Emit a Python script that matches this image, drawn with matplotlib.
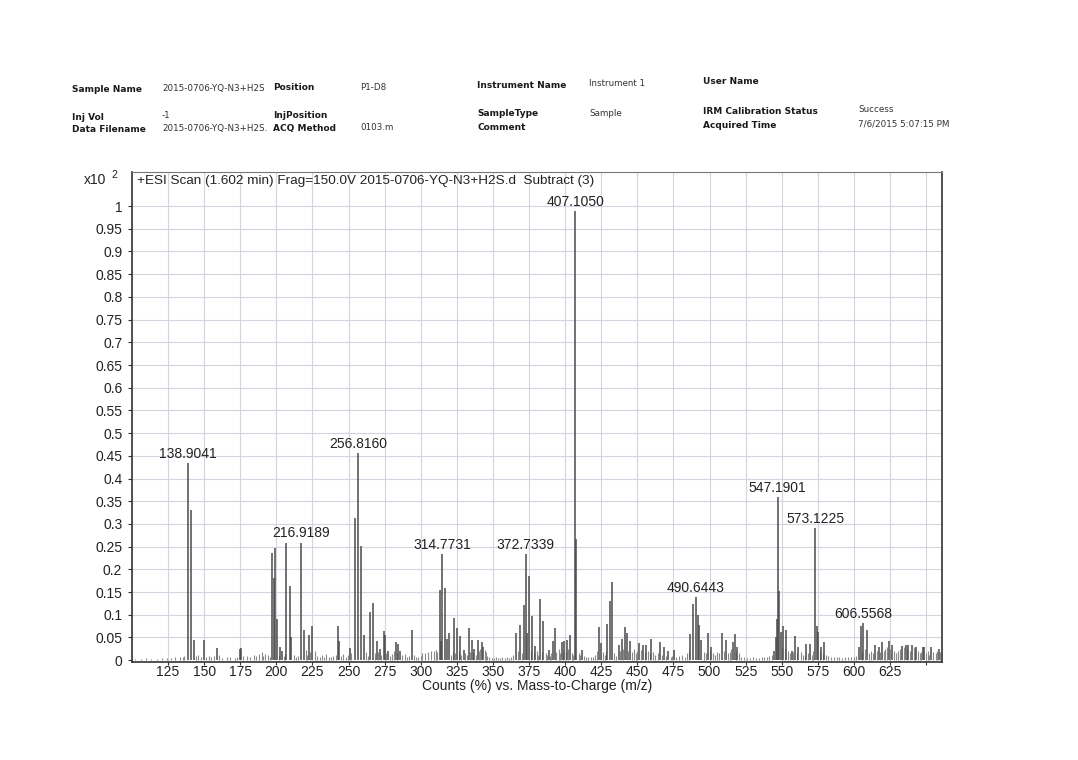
import matplotlib
matplotlib.use("Agg")
import matplotlib.pyplot as plt

# ---------------- data ----------------
peak_mz = [138.9041, 140.9, 142.8, 149.8, 158.6, 174.9, 175.6,
           197.1, 198.5, 199.3, 200.5, 202.4, 204.0, 207.0, 209.2, 210.3,
           216.9189, 218.9, 222.4, 224.9, 242.4, 243.7, 250.8,
           254.3, 256.8160, 258.9, 260.6, 265.0, 267.1, 269.4, 271.7, 274.6, 275.5,
           277.1, 282.5, 284.1, 285.7, 293.6,
           313.0, 313.7, 314.7731, 316.9, 318.0, 319.6, 323.1, 325.3, 327.2, 329.6,
           333.1, 335.2, 337.2, 339.6, 342.1, 343.3,
           365.8, 368.8, 371.3, 372.7339, 373.9, 374.8, 377.3, 379.4, 382.8, 385.0,
           388.6, 391.3, 392.9, 397.7, 399.4, 401.3, 403.3,
           407.1050, 407.8, 411.8, 423.1, 424.6, 429.2, 430.9, 432.5, 437.0, 439.2,
           441.3, 442.7, 444.8, 451.0, 453.8, 456.1, 459.7, 465.5, 468.8, 471.5, 475.4,
           486.7, 488.4, 490.6443, 492.0, 493.0, 494.2, 498.7, 501.0, 508.8, 511.3,
           516.0, 517.5, 519.1,
           544.8, 545.8, 546.4, 547.1901, 548.2, 549.3, 551.2, 553.2, 556.9, 559.2,
           561.5, 567.1, 569.6, 573.1225, 574.1, 575.3, 577.3, 579.4,
           603.3, 604.8, 606.5568, 608.9, 614.6, 617.2, 619.2, 624.3, 626.1,
           633.5, 635.8, 637.6, 640.0, 643.0, 647.5, 648.8, 653.6, 658.8]
peak_int = [0.435, 0.33, 0.044, 0.045, 0.027, 0.024, 0.026,
            0.237, 0.18, 0.247, 0.09, 0.029, 0.02, 0.257, 0.163, 0.05,
            0.259, 0.066, 0.055, 0.076, 0.075, 0.042, 0.027,
            0.313, 0.457, 0.252, 0.055, 0.106, 0.126, 0.042, 0.025, 0.064, 0.055,
            0.02, 0.04, 0.036, 0.021, 0.067,
            0.154, 0.042, 0.234, 0.16, 0.046, 0.06, 0.093, 0.071, 0.054, 0.022,
            0.071, 0.045, 0.024, 0.045, 0.039, 0.028,
            0.06, 0.078, 0.122, 0.233, 0.06, 0.186, 0.097, 0.032, 0.134, 0.087,
            0.023, 0.042, 0.07, 0.04, 0.042, 0.045, 0.055,
            0.99, 0.267, 0.023, 0.073, 0.037, 0.079, 0.13, 0.173, 0.034, 0.046,
            0.073, 0.06, 0.043, 0.038, 0.034, 0.034, 0.046, 0.04, 0.028, 0.02, 0.022,
            0.058, 0.124, 0.14, 0.10, 0.078, 0.044, 0.06, 0.03, 0.059, 0.044,
            0.04, 0.057, 0.028,
            0.02, 0.05, 0.09, 0.36, 0.153, 0.063, 0.076, 0.066, 0.02, 0.053,
            0.03, 0.035, 0.036, 0.291, 0.075, 0.062, 0.028, 0.04,
            0.03, 0.075, 0.081, 0.066, 0.034, 0.03, 0.04, 0.042, 0.034,
            0.032, 0.034, 0.033, 0.034, 0.03, 0.028, 0.03, 0.028, 0.024]

noise_mz = [102, 106, 110, 113, 117, 121, 124, 127, 130, 133, 135, 136, 144.4, 146, 148,
            151, 153.2, 155, 157, 160, 162, 165.9, 168, 171, 173, 177, 179.8, 182, 184.4,
            186, 187.8, 190.1, 191, 192.2, 194, 195.5, 201.5, 205.2, 206, 212, 213.5, 215,
            220.6, 221.3, 223, 226.5, 228.2, 230, 231.7, 233, 234.7, 236.5, 238, 239.3, 241,
            245, 246.4, 248, 249.5, 252, 262, 263.5, 268.3, 270.5, 272.8, 276, 278.5, 280,
            281.3, 283.2, 287, 289.1, 290.5, 292, 295, 296.5, 298, 300, 300.7, 302.6, 304.7,
            306.8, 308.9, 310.5, 311.5, 320.8, 322, 324, 326.3, 328, 330.5, 331.8, 334, 336,
            338.3, 340.5, 341, 344.3, 345, 346, 347.5, 349, 350.5, 352, 353.5, 355, 356.5,
            358, 359.5, 361, 362.5, 364, 367, 370, 376, 378.3, 380.5, 381.5, 384, 386.5,
            387.5, 389.7, 390.5, 394, 395.5, 396.5, 398.5, 400.5, 402.3, 404.5, 405.5,
            409.8, 410.5, 413, 414.5, 416, 418, 419.5, 421, 422, 426, 427.5, 428.3, 434,
            435.5, 438, 440, 443.5, 446, 447.5, 448.8, 450, 452.2, 455, 457.3, 458.5, 461,
            462.5, 464, 467, 470, 473, 474, 477, 479, 481, 483, 484.5, 485.5, 496, 497.3,
            500, 502.3, 503.5, 505, 506.5, 510, 512.5, 514, 515, 518.2, 520.5, 522, 524,
            526, 528, 530, 532, 534, 536, 538, 540, 541.5, 543, 550.3, 552, 554.5, 555.5,
            558, 560.3, 563, 564.5, 566, 568.2, 571, 572, 576.4, 578.3, 580.5, 582, 584,
            586, 588, 590, 592, 594, 596, 598, 600, 601.5, 605.7, 607.6, 610.2, 611.5, 613,
            616, 618, 620.5, 621.8, 623, 625.3, 627.5, 629, 630.5, 632, 634.7, 636.8, 639,
            641.5, 642.2, 644.3, 645.5, 646.3, 650, 651.2, 652.3, 655, 656.5, 657.6, 659.5]
noise_int = [0.003, 0.002, 0.004, 0.003, 0.002, 0.004, 0.005, 0.004, 0.007, 0.006, 0.008,
             0.009, 0.009, 0.012, 0.006, 0.008, 0.009, 0.006, 0.01, 0.012, 0.005, 0.007,
             0.006, 0.005, 0.008, 0.01, 0.009, 0.008, 0.011, 0.009, 0.013, 0.018, 0.01,
             0.014, 0.012, 0.008, 0.012, 0.01, 0.014, 0.012, 0.008, 0.01, 0.023, 0.012,
             0.018, 0.02, 0.009, 0.006, 0.011, 0.007, 0.014, 0.008, 0.006, 0.009, 0.012,
             0.01, 0.013, 0.008, 0.012, 0.015, 0.018, 0.01, 0.015, 0.018, 0.012, 0.015,
             0.01, 0.013, 0.02, 0.015, 0.012, 0.013, 0.008, 0.01, 0.012, 0.007, 0.006,
             0.01, 0.015, 0.016, 0.018, 0.02, 0.02, 0.022, 0.018, 0.012, 0.018, 0.015,
             0.02, 0.012, 0.015, 0.012, 0.018, 0.015, 0.012, 0.02, 0.025, 0.022, 0.018,
             0.01, 0.006, 0.004, 0.005, 0.006, 0.004, 0.005, 0.007, 0.004, 0.006, 0.005,
             0.008, 0.012, 0.02, 0.015, 0.02, 0.015, 0.02, 0.012, 0.018, 0.015, 0.012,
             0.01, 0.015, 0.018, 0.025, 0.015, 0.02, 0.018, 0.025, 0.015, 0.012, 0.015,
             0.012, 0.01, 0.008, 0.006, 0.008, 0.006, 0.012, 0.02, 0.018, 0.012, 0.02,
             0.015, 0.01, 0.02, 0.025, 0.02, 0.018, 0.025, 0.015, 0.02, 0.022, 0.018,
             0.02, 0.015, 0.018, 0.012, 0.015, 0.012, 0.01, 0.008, 0.01, 0.008, 0.01,
             0.012, 0.008, 0.015, 0.02, 0.018, 0.015, 0.02, 0.015, 0.012, 0.018, 0.015,
             0.02, 0.015, 0.018, 0.025, 0.02, 0.015, 0.008, 0.006, 0.005, 0.004, 0.006,
             0.005, 0.004, 0.006, 0.008, 0.007, 0.01, 0.012, 0.03, 0.025, 0.02, 0.015,
             0.018, 0.015, 0.018, 0.012, 0.01, 0.015, 0.012, 0.02, 0.02, 0.015, 0.012,
             0.01, 0.008, 0.006, 0.008, 0.006, 0.005, 0.007, 0.008, 0.006, 0.008, 0.01,
             0.02, 0.025, 0.015, 0.02, 0.015, 0.02, 0.018, 0.02, 0.025, 0.03, 0.025,
             0.02, 0.015, 0.02, 0.025, 0.028, 0.025, 0.02, 0.03, 0.025, 0.02, 0.015,
             0.018, 0.015, 0.02, 0.012, 0.018, 0.015, 0.02, 0.018]

label_mz = [138.9041, 216.9189, 256.8160, 314.7731, 372.7339, 407.1050,
            490.6443, 547.1901, 573.1225, 606.5568]
label_int = [0.435, 0.259, 0.457, 0.234, 0.233, 0.99, 0.14, 0.36, 0.291, 0.081]

x_ticks = [125, 150, 175, 200, 225, 250, 275, 300, 325, 350, 375, 400, 425, 450,
           475, 500, 525, 550, 575, 600, 625]
y_ticks = [0, 0.05, 0.1, 0.15, 0.2, 0.25, 0.3, 0.35, 0.4, 0.45, 0.5, 0.55, 0.6,
           0.65, 0.7, 0.75, 0.8, 0.85, 0.9, 0.95, 1]
y_ticklabels = ["0", "0.05", "0.1", "0.15", "0.2", "0.25", "0.3", "0.35", "0.4",
                "0.45", "0.5", "0.55", "0.6", "0.65", "0.7", "0.75", "0.8", "0.85",
                "0.9", "0.95", "1"]

header_left = [("Sample Name", "2015-0706-YQ-N3+H2S"), ("Inj Vol", "-1"),
               ("Data Filename", "2015-0706-YQ-N3+H2S.")]
header_mid = [("Position", "P1-D8"), ("InjPosition", ""), ("ACQ Method", "0103.m")]
header_mid2 = [("Instrument Name", "Instrument 1"), ("SampleType", "Sample"),
               ("Comment", "")]
header_right = [("User Name", ""), ("IRM Calibration Status", "Success"),
                ("Acquired Time", "7/6/2015 5:07:15 PM")]

title_text = "+ESI Scan (1.602 min) Frag=150.0V 2015-0706-YQ-N3+H2S.d  Subtract (3)"
xlabel_text = "Counts (%) vs. Mass-to-Charge (m/z)"

# ---------------- figure ----------------
W, H = 1078, 760
fig = plt.figure(figsize=(W / 100, H / 100), dpi=100)
fig.patch.set_facecolor("white")

ax_l, ax_r, ax_t, ax_b = 132, 942, 172, 662
ax = fig.add_axes([ax_l / W, 1 - ax_b / H, (ax_r - ax_l) / W, (ax_b - ax_t) / H])

font_main = "Liberation Sans"

ax.vlines(noise_mz, 0, noise_int, colors="#8a8a8a", linewidth=0.8, zorder=2)
ax.vlines(peak_mz, 0, peak_int, colors="#4a4a4a", linewidth=1.1, zorder=3)

for m, v in zip(label_mz, label_int):
    ax.annotate(f"{m:.4f}", xy=(m, v), xytext=(0, 1.5), textcoords="offset points",
                ha="center", va="bottom", fontsize=10, family=font_main,
                color="#222222", zorder=4)

ax.set_xlim(100, 661)
ax.set_ylim(-0.004, 1.075)

ax.set_xticks(x_ticks + [650])
ax.set_xticklabels([str(t) for t in x_ticks] + [""], fontsize=10, family=font_main)
ax.set_yticks(y_ticks)
ax.set_yticklabels(y_ticklabels, fontsize=10, family=font_main)
ax.tick_params(axis="both", direction="out", width=0.8, color="#333333",
               labelcolor="#222222")
ax.tick_params(axis="x", length=2, pad=0)
ax.tick_params(axis="y", length=3, pad=4)

grid_x = x_ticks + [650]
for gx in grid_x:
    ax.axvline(gx, color="#cfd6e0", linewidth=0.8, zorder=0)
for gy in y_ticks[1:]:
    ax.axhline(gy, color="#cfd6e0", linewidth=0.8, zorder=0)

for side in ["left", "bottom", "right"]:
    ax.spines[side].set_color("#333333")
    ax.spines[side].set_linewidth(1.2)
ax.spines["top"].set_color("#777777")
ax.spines["top"].set_linewidth(0.8)

ax.set_xlabel(xlabel_text, fontsize=10, family=font_main, color="#222222", labelpad=0)

ax.text(0.006, 0.993, title_text, transform=ax.transAxes, ha="left", va="top",
        fontsize=9.7, family=font_main, color="#222222")

fig.text(106 / W, 1 - 180 / H, "x10", ha="right", va="center", fontsize=10,
         family=font_main, color="#222222")
fig.text(111 / W, 1 - 175 / H, "2", ha="left", va="center", fontsize=7.5,
         family=font_main, color="#222222")

# header
col_x = [(72, 162), (273, 360), (477, 589), (703, 858)]
row_y = [[89, 117, 129], [88, 115, 128], [85, 114, 127], [81, 111, 125]]
groups = [header_left, header_mid, header_mid2, header_right]
for (lx, vx), ys, grp in zip(col_x, row_y, groups):
    for y, (lab, val) in zip(ys, grp):
        fig.text(lx / W, 1 - y / H, lab, ha="left", va="center", fontsize=6.5,
                 family="DejaVu Sans", fontweight="bold", color="#1a1a1a")
        if val:
            fig.text(vx / W, 1 - (y - 1) / H, val, ha="left", va="center",
                     fontsize=6.3, family="DejaVu Sans", color="#333333")

fig.savefig("out.png", dpi=100, facecolor="white")
